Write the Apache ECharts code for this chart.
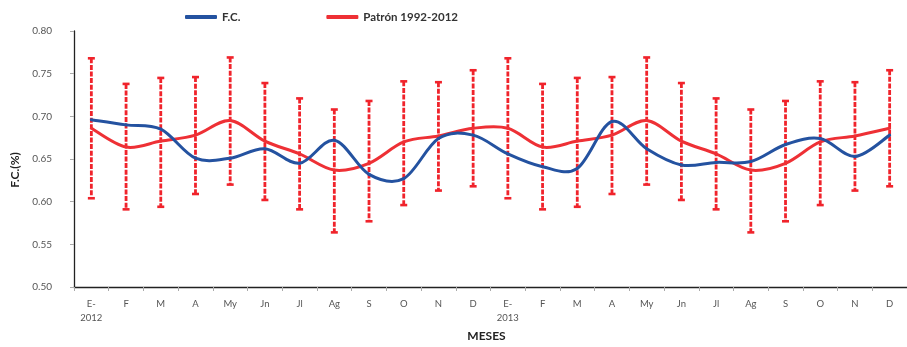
<!DOCTYPE html>
<html><head><meta charset="utf-8">
<script src="https://cdn.jsdelivr.net/npm/echarts@6/dist/echarts.min.js"></script>
<style>html,body{margin:0;padding:0;background:#fff}#c{width:907px;height:347px}</style>
</head><body><div id="c"></div>
<script>
const categories = ['E-\n2012','F','M','A','My','Jn','Jl','Ag','S','O','N','D',
                    'E-\n2013','F','M','A','My','Jn','Jl','Ag','S','O','N','D'];
const fcValues = [0.696,0.690,0.685,0.651,0.651,0.662,0.645,0.672,0.632,0.627,0.674,0.678,
                  0.656,0.641,0.639,0.694,0.662,0.643,0.646,0.647,0.667,0.674,0.653,0.678];
const patronValues = [0.686,0.664,0.671,0.678,0.695,0.671,0.656,0.637,0.645,0.670,0.677,0.686,
                      0.686,0.664,0.671,0.678,0.695,0.671,0.656,0.637,0.645,0.670,0.677,0.686];
const patronHigh = [0.768,0.738,0.745,0.746,0.769,0.739,0.721,0.708,0.718,0.741,0.740,0.754,
                    0.768,0.738,0.745,0.746,0.769,0.739,0.721,0.708,0.718,0.741,0.740,0.754];
const patronLow = [0.604,0.591,0.594,0.609,0.620,0.602,0.591,0.564,0.577,0.596,0.613,0.618,
                   0.604,0.591,0.594,0.609,0.620,0.602,0.591,0.564,0.577,0.596,0.613,0.618];
const yMin = 0.50, yMax = 0.80, yStep = 0.05;

const FONT = 'Lato';
const errData = categories.map((c, i) => [i, patronHigh[i], patronLow[i]]);

// Smooth line (Catmull-Rom style bezier, like spreadsheet smoothing) drawn through the axes
function splineSeries(name, values, color, z) {
  const n = values.length;
  return {
    type: 'custom', name: name, z: z,
    encode: {x: 0, y: 1},
    data: values.map((v, i) => [i, v]),
    itemStyle: {color: color},
    renderItem: function (params, api) {
      const i = params.dataIndex;
      if (i >= n - 1) return {type: 'group', children: []};
      const P = k => { const j = Math.max(0, Math.min(n - 1, k)); return api.coord([j, values[j]]); };
      const p0 = P(i - 1), p1 = P(i), p2 = P(i + 1), p3 = P(i + 2);
      const t = 1 / 6;
      return {
        type: 'bezierCurve',
        shape: {
          x1: p1[0], y1: p1[1], x2: p2[0], y2: p2[1],
          cpx1: p1[0] + (p2[0] - p0[0]) * t, cpy1: p1[1] + (p2[1] - p0[1]) * t,
          cpx2: p2[0] - (p3[0] - p1[0]) * t, cpy2: p2[1] - (p3[1] - p1[1]) * t
        },
        style: {stroke: color, lineWidth: 3, fill: null, lineCap: 'round'}
      };
    }
  };
}

const chart = echarts.init(document.getElementById('c'), null, {renderer: 'canvas'});
chart.setOption({
  animation: false,
  backgroundColor: '#fff',
  legend: {
    data: ['F.C.', 'Patrón 1992-2012'],
    left: 180, top: 6,
    icon: 'roundRect', itemWidth: 32, itemHeight: 4, itemGap: 86,
    textStyle: {fontFamily: FONT, fontWeight: 'bold', fontSize: 11.5, color: '#333'}
  },
  grid: {left: 74, right: -7, top: 31, bottom: 60},
  xAxis: {
    type: 'category', data: categories, boundaryGap: true,
    name: 'MESES', nameLocation: 'middle', nameGap: 43,
    nameTextStyle: {fontFamily: FONT, fontWeight: 'bold', fontSize: 12, color: '#222', padding: [0, 8, 0, 0]},
    axisLine: {lineStyle: {color: '#222', width: 1.3}},
    axisTick: {show: true, length: 4, lineStyle: {color: '#aaa'}},
    axisLabel: {interval: 0, margin: 10, fontFamily: FONT, fontSize: 9.5, color: '#555', lineHeight: 14}
  },
  yAxis: {
    type: 'value', min: yMin, max: yMax, interval: yStep,
    name: 'F.C.(%)', nameLocation: 'middle', nameGap: 48,
    nameTextStyle: {fontFamily: FONT, fontWeight: 'bold', fontSize: 12, color: '#222', padding: [0, 22, 0, 0]},
    axisLine: {show: true, lineStyle: {color: '#222', width: 1.3}},
    axisTick: {show: true, length: 4, lineStyle: {color: '#aaa'}},
    splitLine: {show: false},
    axisLabel: {margin: 22, fontFamily: FONT, fontSize: 10, color: '#555', formatter: v => v.toFixed(2)}
  },
  series: [
    {
      type: 'custom', name: 'err', z: 1,
      encode: {x: 0, y: [1, 2]},
      data: errData,
      renderItem: function (params, api) {
        const top = api.coord([api.value(0), api.value(1)]);
        const bot = api.coord([api.value(0), api.value(2)]);
        const hw = 3.5;
        const red = '#F0232B';
        return {
          type: 'group',
          children: [
            {type: 'line', shape: {x1: top[0], y1: top[1], x2: bot[0], y2: bot[1]},
             style: {stroke: red, lineWidth: 2.8, lineDash: [5, 1.6]}},
            {type: 'line', shape: {x1: top[0] - hw, y1: top[1], x2: top[0] + hw, y2: top[1]},
             style: {stroke: red, lineWidth: 2.6}},
            {type: 'line', shape: {x1: bot[0] - hw, y1: bot[1], x2: bot[0] + hw, y2: bot[1]},
             style: {stroke: red, lineWidth: 2.6}}
          ]
        };
      }
    },
    splineSeries('Patrón 1992-2012', patronValues, '#EE3035', 3),
    splineSeries('F.C.', fcValues, '#2452A0', 4)
  ]
});
</script>
</body></html>
